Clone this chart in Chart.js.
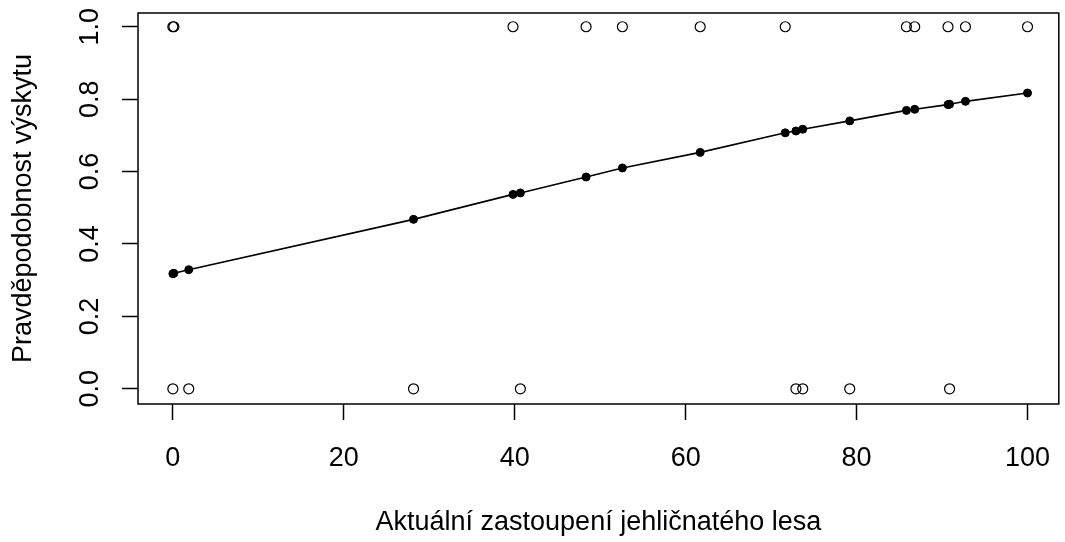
<!DOCTYPE html>
<html>
<head>
<meta charset="utf-8">
<script src="https://cdn.jsdelivr.net/npm/chart.js@4.4.1/dist/chart.umd.min.js"></script>
<style>
  html, body { margin: 0; padding: 0; background: #fff; }
  canvas { display: block; }
</style>
</head>
<body>
<canvas id="c" width="1065" height="542"></canvas>
<script>
// Observed presence (1) / absence (0) by conifer share
const presenceX = [0, 0.12, 39.8, 48.35, 52.6, 61.7, 71.65, 85.83, 86.8, 90.7, 92.74, 100];
const absenceX  = [0, 1.86, 28.16, 40.66, 72.9, 73.7, 79.2, 90.88];

// Fitted probability at each observed x (sorted)
const fitX = [0, 0.12, 1.86, 28.16, 39.8, 40.66, 48.35, 52.6, 61.7, 71.65, 72.9, 73.7, 79.2, 85.83, 86.8, 90.7, 90.88, 92.74, 100];
const fitY = [0.318, 0.319, 0.329, 0.468, 0.537, 0.541, 0.585, 0.610, 0.653, 0.707, 0.712, 0.717, 0.740, 0.769, 0.772, 0.785, 0.786, 0.794, 0.817];

// Axis ticks and labels
const xTicks = [0, 20, 40, 60, 80, 100];
const yTicks = [0, 0.2, 0.4, 0.6, 0.8, 1.0];
const xTitle = 'Aktuální zastoupení jehličnatého lesa';
const yTitle = 'Pravděpodobnost výskytu';

const FONT = "'Liberation Sans', Arial, sans-serif";

const boxPlugin = {
  id: 'box',
  afterDatasetsDraw(chart) {
    const a = chart.chartArea;
    const ctx = chart.ctx;
    ctx.save();
    ctx.strokeStyle = '#000';
    ctx.lineWidth = 1.5;
    ctx.strokeRect(a.left, a.top, a.right - a.left, a.bottom - a.top);
    ctx.restore();
  }
};

function zeroPad(s) {
  s.paddingTop = 0; s.paddingBottom = 0; s.paddingLeft = 0; s.paddingRight = 0;
}

new Chart(document.getElementById('c'), {
  type: 'scatter',
  data: {
    datasets: [
      {
        label: 'fit',
        data: fitX.map((x, i) => ({ x, y: fitY[i] })),
        showLine: true,
        borderColor: '#000',
        borderWidth: 1.6,
        pointRadius: 4,
        pointBackgroundColor: '#000',
        pointBorderColor: '#000',
        pointBorderWidth: 1,
        tension: 0
      },
      {
        label: 'presence',
        data: presenceX.map(x => ({ x, y: 1 })),
        showLine: false,
        pointRadius: 5,
        pointBackgroundColor: 'rgba(0,0,0,0)',
        pointBorderColor: '#000',
        pointBorderWidth: 1.2
      },
      {
        label: 'absence',
        data: absenceX.map(x => ({ x, y: 0 })),
        showLine: false,
        pointRadius: 5,
        pointBackgroundColor: 'rgba(0,0,0,0)',
        pointBorderColor: '#000',
        pointBorderWidth: 1.2
      }
    ]
  },
  options: {
    responsive: false,
    animation: false,
    devicePixelRatio: 1,
    layout: { padding: { top: 13, right: 2, left: 0, bottom: 0 } },
    plugins: {
      legend: { display: false },
      tooltip: { enabled: false }
    },
    scales: {
      x: {
        type: 'linear',
        min: -4.078,
        max: 103.66,
        afterBuildTicks: s => { s.ticks = xTicks.map(v => ({ value: v })); },
        afterFit: s => { s.height = 138; zeroPad(s); },
        grid: { drawOnChartArea: false, drawTicks: true, tickLength: 16, tickColor: '#000', tickWidth: 1.5 },
        border: { display: false },
        ticks: {
          color: '#000',
          font: { family: FONT, size: 27 },
          padding: 22,
          maxRotation: 0,
          minRotation: 0,
          callback: v => String(v)
        },
        title: {
          display: true,
          text: xTitle,
          color: '#000',
          font: { family: FONT, size: 27 },
          padding: { top: 0, bottom: 3 }
        }
      },
      y: {
        type: 'linear',
        min: -0.042,
        max: 1.038,
        afterBuildTicks: s => { s.ticks = yTicks.map(v => ({ value: v })); },
        afterFit: s => { s.width = 138; zeroPad(s); },
        grid: { drawOnChartArea: false, drawTicks: true, tickLength: 16, tickColor: '#000', tickWidth: 1.5 },
        border: { display: false },
        ticks: {
          color: '#000',
          font: { family: FONT, size: 27 },
          padding: 13,
          minRotation: 90,
          maxRotation: 90,
          crossAlign: 'center',
          callback: v => Number(v).toFixed(1)
        },
        title: {
          display: true,
          text: yTitle,
          color: '#000',
          font: { family: FONT, size: 27 },
          padding: { top: 7, bottom: 0 }
        }
      }
    }
  },
  plugins: [boxPlugin]
});
</script>
</body>
</html>
